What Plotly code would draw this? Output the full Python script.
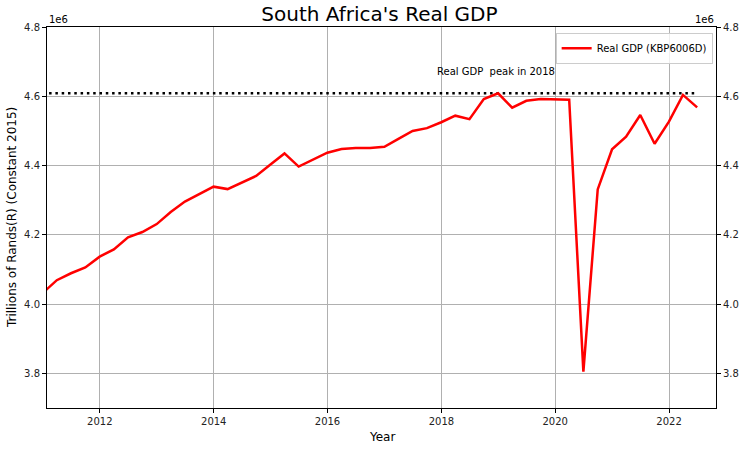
import plotly.graph_objects as go
import pandas as pd

# Quarterly dates (end of quarter), 2010Q4 .. 2022Q2
dates = pd.date_range("2010-12-31", "2022-06-30", freq="QE").strftime("%Y-%m-%d").tolist()

# Real GDP (KBP6006D), Rand, constant 2015 prices
gdp = [4.032e6, 4.069e6, 4.089e6, 4.106e6, 4.137e6, 4.158e6, 4.193e6, 4.208e6,
       4.231e6, 4.266e6, 4.296e6, 4.318e6, 4.339e6, 4.332e6, 4.351e6, 4.370e6,
       4.403e6, 4.435e6, 4.397e6, 4.417e6, 4.437e6, 4.448e6, 4.451e6, 4.451e6,
       4.454e6, 4.477e6, 4.500e6, 4.508e6, 4.525e6, 4.544e6, 4.534e6, 4.592e6,
       4.6085e6, 4.567e6, 4.587e6, 4.592e6, 4.591e6, 4.590e6, 3.805e6, 4.331e6,
       4.447e6, 4.483e6, 4.546e6, 4.463e6, 4.527e6, 4.604e6, 4.568e6]

yticks = [3.8e6, 4.0e6, 4.2e6, 4.4e6, 4.6e6, 4.8e6]
ytick_labels = ["3.8", "4.0", "4.2", "4.4", "4.6", "4.8"]
xticks = ["2012-01-01", "2014-01-01", "2016-01-01", "2018-01-01", "2020-01-01", "2022-01-01"]
xtick_labels = ["2012", "2014", "2016", "2018", "2020", "2022"]

peak = max(gdp)
font = "DejaVu Sans"

fig = go.Figure()
fig.add_trace(go.Scatter(x=[dates[0], dates[-1]], y=[peak, peak], mode="lines",
                         line=dict(color="black", width=2.5, dash="2.5px,3.8px"),
                         showlegend=False, hoverinfo="skip"))
fig.add_trace(go.Scatter(x=dates, y=gdp, mode="lines", name="Real GDP (KBP6006D)",
                         line=dict(color="#ff0000", width=2.5)))
fig.add_trace(go.Scatter(x=dates, y=gdp, mode="lines", yaxis="y2",
                         line=dict(width=0), opacity=0, showlegend=False, hoverinfo="skip"))

fig.add_annotation(x="2017-11-22", y=peak + 40000, text="Real GDP  peak in 2018",
                   showarrow=False, xanchor="left", yanchor="bottom",
                   font=dict(family=font, size=10, color="black"))
fig.add_annotation(x=0, y=1, xref="paper", yref="paper", text="1e6", showarrow=False,
                   xanchor="left", yanchor="bottom", font=dict(family=font, size=10, color="black"))
fig.add_annotation(x=1, y=1, xref="paper", yref="paper", text="1e6", showarrow=False,
                   xanchor="right", yanchor="bottom", font=dict(family=font, size=10, color="black"))
# axis titles
fig.add_annotation(x=-0.053, y=0.5, xref="paper", yref="paper",
                   text="Trillions of Rands(R) (Constant 2015)", textangle=-90,
                   showarrow=False, xanchor="center", yanchor="middle",
                   font=dict(family=font, size=12, color="black"))
fig.add_annotation(x=0.5, y=-0.077, xref="paper", yref="paper", text="Year",
                   showarrow=False, xanchor="center", yanchor="middle",
                   font=dict(family=font, size=12, color="black"))

axis_common = dict(showline=True, linecolor="black", linewidth=1, ticks="outside",
                   ticklen=4, tickcolor="black", tickfont=dict(family=font, size=10, color="#222"),
                   zeroline=False, automargin=False)

fig.update_layout(
    width=747, height=449,
    margin=dict(l=47, r=31, t=27, b=41),
    paper_bgcolor="white", plot_bgcolor="white",
    title=dict(text="South Africa's Real GDP", x=0.508, xanchor="center", y=1 - 14 / 449,
               yanchor="middle", yref="container", font=dict(family=font, size=20, color="black")),
    xaxis=dict(range=["2011-01-27", "2022-10-29"], tickvals=xticks, ticktext=xtick_labels,
               showgrid=True, gridcolor="#b0b0b0", gridwidth=0.8, mirror=True,
               **axis_common),
    yaxis=dict(range=[3.7e6, 4.8e6], tickvals=yticks, ticktext=ytick_labels,
               showgrid=True, gridcolor="#b0b0b0", gridwidth=0.8,
               **axis_common),
    yaxis2=dict(range=[3.7e6, 4.8e6], tickvals=yticks, ticktext=ytick_labels,
                overlaying="y", side="right", showgrid=False, **axis_common),
    legend=dict(x=0.995, y=0.985, xanchor="right", yanchor="top", itemwidth=30,
                bgcolor="rgba(255,255,255,0.8)", bordercolor="#cccccc", borderwidth=1,
                font=dict(family=font, size=10, color="black")),
    showlegend=True,
)

fig.write_html("out.html", config={"displayModeBar": False},
               post_script="document.body.style.margin='0';document.body.style.overflow='hidden';")
